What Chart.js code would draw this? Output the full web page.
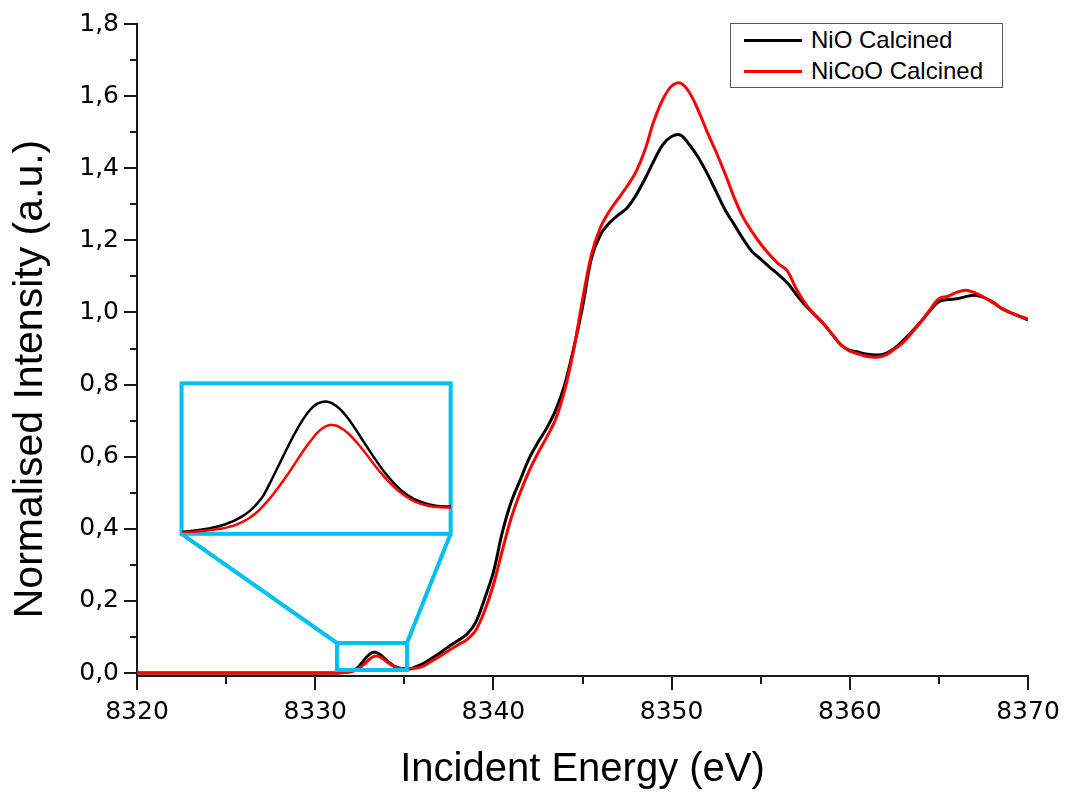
<!DOCTYPE html>
<html>
<head>
<meta charset="utf-8">
<title>Ni K-edge XANES</title>
<script src="https://cdn.jsdelivr.net/npm/chart.js@4/dist/chart.umd.min.js"></script>
<style>
  html, body { margin: 0; padding: 0; background: #fff; }
  #wrap { position: relative; width: 1068px; height: 794px; overflow: hidden; }
  #main { position: absolute; left: 0; top: 0; }
  #inset { position: absolute; }
  #legend {
    position: absolute; left: 730px; top: 23px; width: 271px; height: 63px;
    border: 1.5px solid #555; background: #fff;
    font-family: "Liberation Sans", Arial, sans-serif; font-size: 24px; color: #000;
  }
  #legend .row { position: absolute; left: 0; width: 100%; height: 30px; }
  #legend .swatch { position: absolute; left: 13px; top: 13.5px; width: 58px; height: 3px; }
  #legend .lbl { position: absolute; left: 80px; top: 0; line-height: 30px; white-space: nowrap; }
</style>
</head>
<body>
<div id="wrap">
  <canvas id="main" width="1068" height="794"></canvas>
  <canvas id="inset"></canvas>
  <div id="legend"></div>
</div>
<script>
// Incident energy grid (eV); finer steps across the pre-edge peak
const energy = [
  8320, 8322, 8324, 8326, 8328, 8330,
  8331.0, 8331.1, 8331.2, 8331.3, 8331.4, 8331.5, 8331.6, 8331.7, 8331.8, 8331.9,
  8332.0, 8332.1, 8332.2, 8332.3, 8332.4, 8332.5, 8332.6, 8332.7, 8332.8, 8332.9,
  8333.0, 8333.1, 8333.2, 8333.3, 8333.4, 8333.5, 8333.6, 8333.7, 8333.8, 8333.9,
  8334.0, 8334.1, 8334.2, 8334.3, 8334.4, 8334.5, 8334.6, 8334.7, 8334.8, 8334.9,
  8335.0, 8335.1, 8335.2, 8335.3, 8335.4, 8335.5,
  8336, 8336.5, 8337, 8337.5, 8338, 8338.5, 8339, 8339.5, 8340, 8340.5,
  8341, 8341.5, 8342, 8342.5, 8343, 8343.5, 8344, 8344.5, 8345, 8345.5,
  8346, 8346.5, 8347, 8347.5, 8348, 8348.5, 8349, 8349.5, 8350, 8350.5,
  8351, 8351.5, 8352, 8352.5, 8353, 8353.5, 8354, 8354.5, 8355, 8355.5,
  8356, 8356.5, 8357, 8357.5, 8358, 8358.5, 8359, 8359.5, 8360, 8360.5,
  8361, 8361.5, 8362, 8362.5, 8363, 8363.5, 8364, 8364.5, 8365, 8365.5,
  8366, 8366.5, 8367, 8367.5, 8368, 8368.5, 8369, 8369.5, 8370
];

// Normalised absorption, NiO calcined
const nioCalcined = [
  0, 0, 0, 0, 0, 0,
  0.0000, 0.0002, 0.0005, 0.0008, 0.0011, 0.0015, 0.0020, 0.0026, 0.0034, 0.0045,
  0.0058, 0.0074, 0.0095, 0.0124, 0.0160, 0.0215, 0.0275, 0.0335, 0.0395, 0.0450,
  0.0500, 0.0540, 0.0567, 0.0578, 0.0575, 0.0558, 0.0530, 0.0492, 0.0448, 0.0402,
  0.0357, 0.0313, 0.0272, 0.0236, 0.0204, 0.0178, 0.0158, 0.0143, 0.0132, 0.0124,
  0.0119, 0.0117, 0.0118, 0.0122, 0.0130, 0.0145,
  0.025, 0.040, 0.056, 0.074, 0.090, 0.107, 0.140, 0.205, 0.28, 0.39,
  0.475, 0.535, 0.595, 0.64, 0.68, 0.73, 0.80, 0.90, 1.015, 1.15,
  1.215, 1.248, 1.27, 1.29, 1.325, 1.37, 1.42, 1.465, 1.488, 1.492,
  1.465, 1.43, 1.385, 1.335, 1.285, 1.245, 1.205, 1.17, 1.148, 1.126,
  1.105, 1.082, 1.05, 1.02, 0.995, 0.97, 0.94, 0.91, 0.895, 0.89,
  0.884, 0.882, 0.886, 0.90, 0.922, 0.948, 0.975, 1.005, 1.03, 1.036,
  1.038, 1.044, 1.048, 1.042, 1.03, 1.012, 1.0, 0.99, 0.979
];

// Normalised absorption, NiCoO calcined
const nicooCalcined = [
  0, 0, 0, 0, 0, 0,
  0.0000, 0.0001, 0.0002, 0.0004, 0.0006, 0.0009, 0.0012, 0.0016, 0.0020, 0.0027,
  0.0036, 0.0049, 0.0066, 0.0088, 0.0117, 0.0150, 0.0188, 0.0228, 0.0270, 0.0315,
  0.0360, 0.0400, 0.0437, 0.0463, 0.0475, 0.0472, 0.0455, 0.0430, 0.0398, 0.0362,
  0.0323, 0.0285, 0.0250, 0.0218, 0.0190, 0.0167, 0.0148, 0.0134, 0.0124, 0.0118,
  0.0114, 0.0112, 0.0113, 0.0115, 0.0120, 0.0130,
  0.018, 0.032, 0.047, 0.063, 0.078, 0.092, 0.118, 0.172, 0.245, 0.34,
  0.43, 0.50, 0.56, 0.61, 0.655, 0.705, 0.785, 0.895, 1.035, 1.16,
  1.235, 1.28, 1.315, 1.35, 1.39, 1.45, 1.53, 1.59, 1.628, 1.636,
  1.61, 1.56, 1.50, 1.445, 1.385, 1.32, 1.265, 1.225, 1.19, 1.16,
  1.135, 1.115, 1.065, 1.025, 0.995, 0.97, 0.94, 0.91, 0.893, 0.885,
  0.878, 0.876, 0.882, 0.898, 0.917, 0.945, 0.975, 1.008, 1.038, 1.045,
  1.056, 1.062, 1.055, 1.043, 1.028, 1.012, 1.0, 0.99, 0.982
];

const seriesLabels = ['NiO Calcined', 'NiCoO Calcined'];
const seriesColors = ['#000000', '#ff0000'];

// Axis tick values
const xTicks = [8320, 8330, 8340, 8350, 8360, 8370];
const yTicks = [0, 0.2, 0.4, 0.6, 0.8, 1.0, 1.2, 1.4, 1.6, 1.8];

// Pre-edge zoom: window on the main axes and the magnified frame
const zoomWindow = { e0: 8331.22, e1: 8335.15, v0: 0.0086, v1: 0.0835 };
const insetFrame = { e0: 8322.50, e1: 8337.60, v0: 0.3863, v1: 0.8034 };
const insetRange = { e0: 8331.2, e1: 8335.2, v0: 0, v1: 0.066 };

const CYAN = '#00c0f0';
const toPoints = vals => energy.map((e, i) => ({ x: e, y: vals[i] }));

function makeDatasets(width) {
  return [
    { label: seriesLabels[0], data: toPoints(nioCalcined), borderColor: seriesColors[0],
      borderWidth: width, pointRadius: 0, tension: 0.35, order: 1 },
    { label: seriesLabels[1], data: toPoints(nicooCalcined), borderColor: seriesColors[1],
      borderWidth: width, pointRadius: 0, tension: 0.35, order: 0 }
  ];
}

// Tick marks (major + minor), the rotated y title and the cyan zoom guides
const decorations = {
  id: 'decorations',
  afterDatasetsDraw(chart) {
    const { ctx } = chart;
    const xs = chart.scales.x, ys = chart.scales.y;
    const px = e => xs.getPixelForValue(e), py = v => ys.getPixelForValue(v);
    ctx.save();
    ctx.strokeStyle = CYAN;
    ctx.lineWidth = 4;
    ctx.lineJoin = 'miter';
    ctx.strokeRect(px(zoomWindow.e0), py(zoomWindow.v1),
      px(zoomWindow.e1) - px(zoomWindow.e0), py(zoomWindow.v0) - py(zoomWindow.v1));
    ctx.strokeRect(px(insetFrame.e0), py(insetFrame.v1),
      px(insetFrame.e1) - px(insetFrame.e0), py(insetFrame.v0) - py(insetFrame.v1));
    ctx.beginPath();
    ctx.moveTo(px(insetFrame.e0), py(insetFrame.v0));
    ctx.lineTo(px(zoomWindow.e0), py(zoomWindow.v1));
    ctx.moveTo(px(insetFrame.e1), py(insetFrame.v0));
    ctx.lineTo(px(zoomWindow.e1), py(zoomWindow.v1));
    ctx.stroke();
    ctx.restore();
  },
  afterDraw(chart) {
    const { ctx, chartArea } = chart;
    const xs = chart.scales.x, ys = chart.scales.y;
    ctx.save();
    ctx.strokeStyle = '#1a1a1a';
    ctx.lineWidth = 2;
    ctx.beginPath();
    for (let i = 0; i <= 18; i++) {
      const y = Math.round(ys.getPixelForValue(i / 10));
      const len = i % 2 === 0 ? 13 : 7;
      ctx.moveTo(chartArea.left - len, y);
      ctx.lineTo(chartArea.left, y);
    }
    for (let e = 8320; e <= 8370; e += 5) {
      const x = Math.round(xs.getPixelForValue(e));
      const len = (e % 10 === 0) ? 14 : 8;
      ctx.moveTo(x, chartArea.bottom);
      ctx.lineTo(x, chartArea.bottom + len);
    }
    ctx.stroke();

    ctx.fillStyle = '#000';
    ctx.font = '41px "Liberation Sans", Arial, sans-serif';
    ctx.textAlign = 'center';
    ctx.textBaseline = 'middle';
    ctx.translate(31, 379);
    ctx.rotate(-Math.PI / 2);
    ctx.fillText('Normalised Intensity (a.u.)', 0, 0);
    ctx.restore();
  }
};

const tickFont = { family: '"DejaVu Sans", sans-serif', size: 25 };
const mainChart = new Chart(document.getElementById('main'), {
  type: 'line',
  data: { datasets: makeDatasets(3) },
  options: {
    responsive: false,
    animation: false,
    devicePixelRatio: 1,
    layout: { padding: { top: 24, right: 40, bottom: 0, left: 0 } },
    plugins: { legend: { display: false }, tooltip: { enabled: false } },
    scales: {
      x: {
        type: 'linear', min: 8320, max: 8370,
        grid: { display: false, drawTicks: true, tickLength: 21 },
        border: { display: true, color: '#1a1a1a', width: 2 },
        afterBuildTicks: s => { s.ticks = xTicks.map(v => ({ value: v })); },
        ticks: { padding: 0, color: '#000', font: tickFont, maxRotation: 0, autoSkip: false,
                 callback: v => String(v) },
        title: { display: true, text: 'Incident Energy (eV)', color: '#000',
                 font: { family: '"Liberation Sans", Arial, sans-serif', size: 40 },
                 padding: { top: 0, bottom: 0 } },
        afterFit: s => { s.height = 118; }
      },
      y: {
        type: 'linear', min: -0.008, max: 1.8,
        grid: { display: false, drawTicks: true, tickLength: 18 },
        border: { display: true, color: '#1a1a1a', width: 2 },
        afterBuildTicks: s => { s.ticks = yTicks.map(v => ({ value: v })); },
        ticks: { padding: 0, color: '#000', font: tickFont,
                 callback: v => Number(v).toFixed(1).replace('.', ',') },
        afterFit: s => { s.width = 137; }
      }
    }
  },
  plugins: [decorations]
});

// Magnified pre-edge, laid out on the main chart's coordinate frame
(function () {
  const xs = mainChart.scales.x, ys = mainChart.scales.y;
  const L = xs.getPixelForValue(insetFrame.e0), R = xs.getPixelForValue(insetFrame.e1);
  const T = ys.getPixelForValue(insetFrame.v1), B = ys.getPixelForValue(insetFrame.v0);
  const cv = document.getElementById('inset');
  cv.width = Math.round(R - L);
  cv.height = Math.round(B - T);
  cv.style.left = L + 'px';
  cv.style.top = T + 'px';
  new Chart(cv, {
    type: 'line',
    data: { datasets: makeDatasets(2.5) },
    options: {
      responsive: false,
      animation: false,
      devicePixelRatio: 1,
      layout: { padding: 0 },
      plugins: { legend: { display: false }, tooltip: { enabled: false } },
      scales: {
        x: { type: 'linear', display: false, min: insetRange.e0, max: insetRange.e1 },
        y: { type: 'linear', display: false, min: insetRange.v0, max: insetRange.v1 }
      }
    }
  });
})();

// Legend built from the dataset labels and colours
(function () {
  const box = document.getElementById('legend');
  seriesLabels.forEach((label, i) => {
    const row = document.createElement('div');
    row.className = 'row';
    row.style.top = (1 + i * 31) + 'px';
    const sw = document.createElement('div');
    sw.className = 'swatch';
    sw.style.background = seriesColors[i];
    const tx = document.createElement('div');
    tx.className = 'lbl';
    tx.textContent = label;
    row.appendChild(sw);
    row.appendChild(tx);
    box.appendChild(row);
  });
})();
</script>
</body>
</html>
